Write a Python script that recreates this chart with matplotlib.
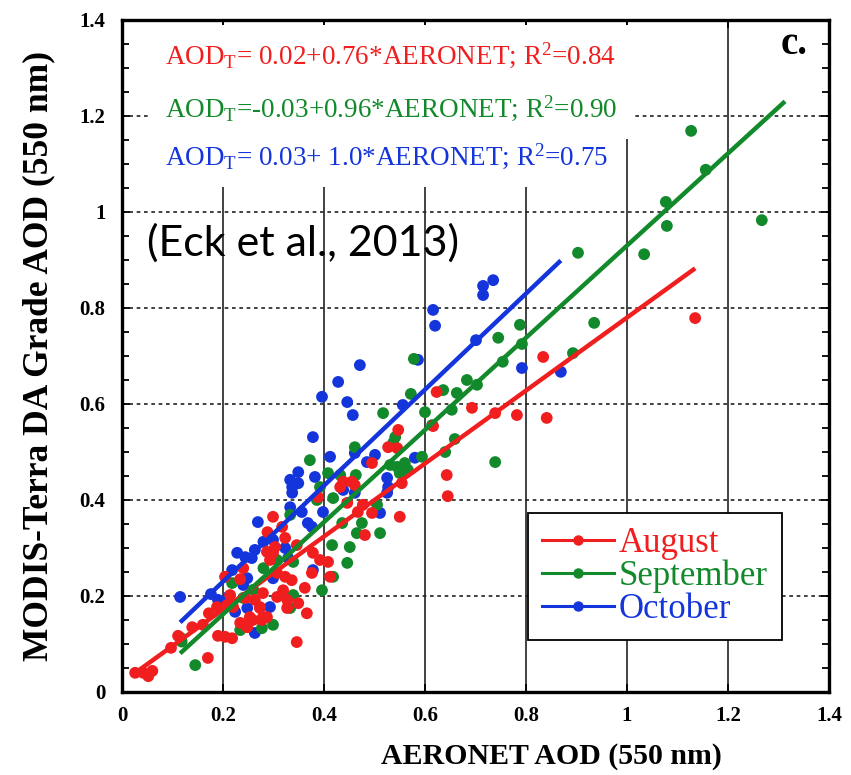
import matplotlib
matplotlib.use("Agg")
import matplotlib.pyplot as plt
from matplotlib.lines import Line2D
from matplotlib.ticker import MultipleLocator
import numpy as np

plt.rcParams['font.family'] = ['Liberation Serif', 'DejaVu Serif']
plt.rcParams['mathtext.fontset'] = 'custom'
plt.rcParams['mathtext.rm'] = 'Liberation Serif'
plt.rcParams['mathtext.it'] = 'Liberation Serif:italic'
plt.rcParams['mathtext.bf'] = 'Liberation Serif:bold'

# ---------------- data ----------------
months = ["August", "September", "October"]
colors = ["#f01e1e", "#12892a", "#1434dc"]

aug_x = [0.026, 0.042, 0.052, 0.060, 0.097, 0.111, 0.139, 0.160, 0.172, 0.170,
         0.190, 0.204, 0.218, 0.188, 0.208, 0.204, 0.234, 0.240, 0.214, 0.220,
         0.244, 0.263, 0.273, 0.279, 0.234, 0.248, 0.259, 0.277, 0.287, 0.299,
         0.317, 0.323, 0.303, 0.287, 0.299, 0.293, 0.307, 0.323, 0.319, 0.327,
         0.307, 0.279, 0.273, 0.253, 0.327, 0.288, 0.346, 0.378, 0.392, 0.408,
         0.412, 0.376, 0.336, 0.362, 0.349, 0.366, 0.346, 0.388, 0.446, 0.477,
         0.438, 0.455, 0.461, 0.432, 0.467, 0.495, 0.481, 0.495, 0.527, 0.545,
         0.547, 0.554, 0.550, 0.616, 0.623, 0.643, 0.645, 0.693, 0.739, 0.782,
         0.841, 0.834, 1.135]
aug_y = [0.040, 0.040, 0.033, 0.044, 0.092, 0.117, 0.135, 0.140, 0.164, 0.071,
         0.117, 0.115, 0.112, 0.177, 0.181, 0.240, 0.235, 0.258, 0.202, 0.177,
         0.196, 0.192, 0.177, 0.156, 0.144, 0.135, 0.150, 0.150, 0.156, 0.365,
         0.344, 0.321, 0.302, 0.292, 0.290, 0.275, 0.248, 0.240, 0.212, 0.192,
         0.198, 0.206, 0.175, 0.156, 0.175, 0.333, 0.306, 0.290, 0.275, 0.271,
         0.240, 0.248, 0.233, 0.217, 0.185, 0.164, 0.104, 0.406, 0.394, 0.390,
         0.438, 0.438, 0.431, 0.427, 0.375, 0.373, 0.327, 0.477, 0.510, 0.508,
         0.546, 0.435, 0.365, 0.554, 0.625, 0.452, 0.408, 0.592, 0.581, 0.577,
         0.571, 0.698, 0.779]

sep_x = [0.116, 0.118, 0.145, 0.218, 0.240, 0.260, 0.280, 0.234, 0.277, 0.299,
         0.307, 0.339, 0.339, 0.333, 0.333, 0.372, 0.392, 0.386, 0.396, 0.408,
         0.418, 0.416, 0.418, 0.432, 0.436, 0.446, 0.451, 0.461, 0.463, 0.475,
         0.465, 0.505, 0.511, 0.517, 0.541, 0.537, 0.531, 0.545, 0.560, 0.566,
         0.550, 0.594, 0.572, 0.578, 0.600, 0.614, 0.636, 0.653, 0.663, 0.640,
         0.659, 0.683, 0.703, 0.739, 0.745, 0.754, 0.788, 0.792, 0.893, 0.903,
         0.935, 1.034, 1.077, 1.079, 1.127, 1.156, 1.267]
sep_y = [0.113, 0.105, 0.056, 0.227, 0.196, 0.213, 0.258, 0.129, 0.133, 0.140,
         0.275, 0.271, 0.202, 0.175, 0.369, 0.483, 0.427, 0.400, 0.212, 0.456,
         0.404, 0.306, 0.240, 0.452, 0.352, 0.269, 0.302, 0.510, 0.452, 0.352,
         0.331, 0.390, 0.331, 0.581, 0.531, 0.519, 0.473, 0.469, 0.477, 0.463,
         0.456, 0.490, 0.621, 0.694, 0.583, 0.556, 0.629, 0.588, 0.623, 0.500,
         0.527, 0.650, 0.640, 0.479, 0.738, 0.688, 0.765, 0.725, 0.706, 0.915,
         0.769, 0.912, 1.021, 0.971, 1.169, 1.088, 0.983]

oct_x = [0.115, 0.176, 0.190, 0.210, 0.218, 0.228, 0.244, 0.257, 0.263, 0.269,
         0.280, 0.299, 0.323, 0.329, 0.240, 0.248, 0.224, 0.248, 0.263, 0.293,
         0.299, 0.378, 0.333, 0.333, 0.337, 0.337, 0.349, 0.349, 0.356, 0.368,
         0.376, 0.378, 0.382, 0.396, 0.398, 0.412, 0.428, 0.446, 0.457, 0.461,
         0.438, 0.461, 0.485, 0.501, 0.511, 0.525, 0.527, 0.525, 0.471, 0.556,
         0.580, 0.586, 0.616, 0.620, 0.701, 0.715, 0.715, 0.735, 0.792, 0.869]
oct_y = [0.198, 0.204, 0.192, 0.198, 0.254, 0.290, 0.281, 0.279, 0.296, 0.354,
         0.313, 0.317, 0.300, 0.279, 0.223, 0.237, 0.167, 0.175, 0.123, 0.177,
         0.237, 0.254, 0.385, 0.442, 0.427, 0.415, 0.435, 0.458, 0.375, 0.352,
         0.344, 0.531, 0.448, 0.615, 0.375, 0.490, 0.646, 0.604, 0.577, 0.498,
         0.421, 0.415, 0.479, 0.494, 0.373, 0.446, 0.427, 0.415, 0.681, 0.598,
         0.488, 0.692, 0.796, 0.763, 0.733, 0.846, 0.827, 0.858, 0.675, 0.667]

# regression fits: intercept, slope, x-range of the drawn line
fit_intercept = [0.02, -0.03, 0.03]
fit_slope = [0.76, 0.96, 1.0]
fit_xrange = [(0.022, 1.135), (0.115, 1.313), (0.115, 0.869)]
fit_labels = [r"AOD$_{\mathrm{T}}$= 0.02+0.76*AERONET; R$^{2}$=0.84",
              r"AOD$_{\mathrm{T}}$=-0.03+0.96*AERONET; R$^{2}$=0.90",
              r"AOD$_{\mathrm{T}}$= 0.03+ 1.0*AERONET; R$^{2}$=0.75"]

xticks = [0, 0.2, 0.4, 0.6, 0.8, 1.0, 1.2, 1.4]
yticks = [0, 0.2, 0.4, 0.6, 0.8, 1.0, 1.2, 1.4]
tick_labels = ["0", "0.2", "0.4", "0.6", "0.8", "1", "1.2", "1.4"]

# ---------------- figure ----------------
fig = plt.figure(figsize=(8.51, 7.75), dpi=100)
ax = fig.add_axes([0.1434, 0.1071, 0.8307, 0.8671])

ax.set_xlim(0, 1.4)
ax.set_ylim(0, 1.4)

# grid: vertical solid, horizontal dotted
for xv in xticks[1:-1]:
    ax.axvline(xv, color="#222222", lw=1.2, zorder=0.5)
for yv in yticks[1:-1]:
    ax.axhline(yv, color="#222222", lw=1.2, ls=(0, (2.2, 2.2)), zorder=0.5)

series = [(oct_x, oct_y, 2), (sep_x, sep_y, 1), (aug_x, aug_y, 0)]
for xs, ys, i in series:
    ax.scatter(xs, ys, s=72, color=colors[i], edgecolors="none", zorder=2)

for i in range(3):
    x0, x1 = fit_xrange[i]
    lx = np.array([x0, x1])
    ax.plot(lx, fit_intercept[i] + fit_slope[i] * lx, color=colors[i],
            lw=3.2, solid_capstyle="butt", zorder=3)

# equations (white boxes first, then the text itself)
eq_y = [1.31, 1.198, 1.098]
for i in range(3):
    ax.text(0.085, eq_y[i], fit_labels[i], color="white", fontsize=19.5,
            ha="left", va="baseline", zorder=3.8,
            bbox=dict(facecolor="white", edgecolor="none", pad=11))
for i in range(3):
    ax.text(0.085, eq_y[i], fit_labels[i], color=colors[i], fontsize=19.5,
            ha="left", va="baseline", zorder=4)

ax.text(1.358, 1.329, "c.", fontsize=28, fontweight="bold", ha="right",
        va="baseline", zorder=4)

ax.text(0.05, 0.935, "(Eck et al., 2013)", fontsize=31, family="Lato",
        ha="left", va="center", zorder=4)

# ticks
ax.set_xticks(xticks)
ax.set_xticklabels(tick_labels)
ax.set_yticks(yticks)
ax.set_yticklabels(tick_labels)
ax.yaxis.set_minor_locator(MultipleLocator(0.05))
ax.tick_params(which="both", direction="in", top=True, right=True, width=1.3)
ax.tick_params(which="major", length=6)
ax.tick_params(which="minor", length=5)
ax.tick_params(axis="x", pad=10)
ax.tick_params(axis="y", pad=12)
for lab in ax.get_xticklabels() + ax.get_yticklabels():
    lab.set_fontweight("bold")
    lab.set_fontsize(15)

for sp in ax.spines.values():
    sp.set_linewidth(2.4)

ax.set_xlabel("AERONET AOD (550 nm)", fontsize=21.5, fontweight="bold",
              labelpad=12, x=0.608)
ax.set_ylabel("MODIS-Terra DA Grade AOD (550 nm)", fontsize=25.5,
              fontweight="bold", labelpad=17)

handles = [Line2D([], [], color=c, lw=2.2, marker="o", ms=6.5) for c in colors]
leg = ax.legend(handles, months, loc="lower left", bbox_to_anchor=(0.574, 0.077),
                frameon=True, fancybox=False, edgecolor="black", framealpha=1,
                prop=dict(family="Liberation Serif", size=25), handlelength=2.07,
                handletextpad=0.15, borderpad=0.4, labelspacing=0.0,
                borderaxespad=0)
leg.get_frame().set_linewidth(1.3)
leg.set_zorder(5)
for t, c in zip(leg.get_texts(), colors):
    t.set_color(c)

fig.savefig("out.png", dpi=100)
